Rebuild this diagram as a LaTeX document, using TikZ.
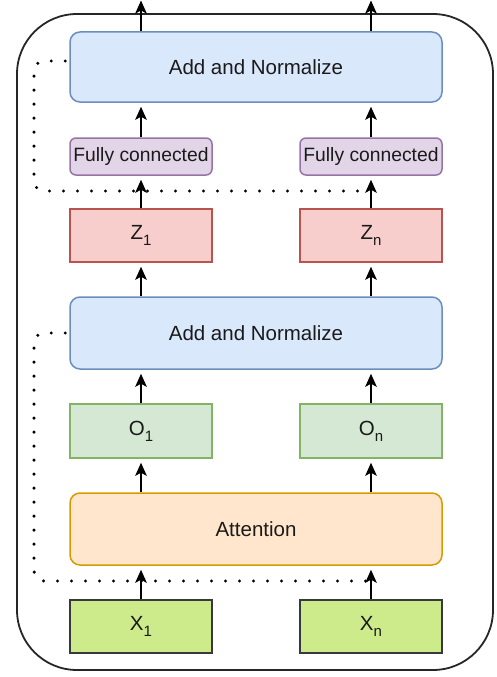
\documentclass[tikz,border=0pt]{standalone}
\usepackage{fontspec}
\setmainfont{Liberation Sans}
\usetikzlibrary{arrows.meta}
\definecolor{bluef}{HTML}{DAE8FC}\definecolor{blues}{HTML}{6C8EBF}
\definecolor{purpf}{HTML}{E1D5E7}\definecolor{purps}{HTML}{9673A6}
\definecolor{redf}{HTML}{F8CECC}\definecolor{reds}{HTML}{B85450}
\definecolor{greenf}{HTML}{D5E8D4}\definecolor{greens}{HTML}{82B366}
\definecolor{orangef}{HTML}{FFE6CC}\definecolor{oranges}{HTML}{D79B00}
\definecolor{limef}{HTML}{CDEB8B}\definecolor{limes}{HTML}{36393D}
\definecolor{txt}{HTML}{1A1A1A}
\newcommand{\sbs}[1]{\raisebox{-0.3em}{\fontsize{15}{15}\selectfont #1}}
\tikzset{
  box/.style={draw, line width=1.5pt, inner sep=0pt, text=txt,
    font=\fontsize{20.5}{24}\selectfont},
  bluebox/.style={box, fill=bluef, draw=blues, rounded corners=10pt,
    minimum width=372pt, minimum height=70pt},
  fcbox/.style={box, fill=purpf, draw=purps, rounded corners=6pt,
    minimum width=142pt, minimum height=37pt, font=\fontsize{19.3}{22}\selectfont},
  zbox/.style={box, fill=redf, draw=reds, minimum width=142pt, minimum height=53pt},
  obox/.style={box, fill=greenf, draw=greens, minimum width=142pt, minimum height=54pt},
  attbox/.style={box, fill=orangef, draw=oranges, rounded corners=10pt,
    minimum width=372pt, minimum height=72pt},
  xbox/.style={box, fill=limef, draw=limes, minimum width=142pt, minimum height=53pt},
  arr/.style={draw=black, line width=2pt, shorten >=4pt,
    -{Stealth[length=13pt,width=11.5pt,inset=3pt]}},
  toparr/.style={arr, shorten >=0pt},
  dotline/.style={draw=black, line width=3.4pt, line cap=round,
    dash pattern=on 0pt off 14pt, rounded corners=10pt},
  outer/.style={draw=black!85, line width=1.8pt, rounded corners=60pt}
}
\begin{document}
\begin{tikzpicture}[x=1pt,y=-1pt]
\useasboundingbox (0,0) rectangle (496,677);
\draw[outer] (17,14) rectangle (493,670);

\node[bluebox] (an2) at (256,67) {Add and Normalize};
\node[fcbox] (fc1) at (141,156.5) {Fully connected};
\node[fcbox] (fcn) at (371,156.5) {Fully connected};
\node[zbox] (z1) at (141,235.5) {Z\sbs{1}};
\node[zbox] (zn) at (371,235.5) {Z\sbs{n}};
\node[bluebox, minimum height=72pt] (an1) at (256,333) {Add and Normalize};
\node[obox] (o1) at (141,431) {O\sbs{1}};
\node[obox] (on) at (371,431) {O\sbs{n}};
\node[attbox] (att) at (256,529) {Attention};
\node[xbox] (x1) at (141,626.5) {X\sbs{1}};
\node[xbox] (xn) at (371,626.5) {X\sbs{n}};

\coordinate (out1) at (141,0.5);
\coordinate (outn) at (371,0.5);

% dotted residual paths
\draw[dotline] ([xshift=-4pt,yshift=6pt]an2.west) -- (34,61) -- (34,191) -- (371,191);
\draw[dotline] ([xshift=-4pt]an1.west) -- (34,333) -- (34,581) -- (371,581);

% arrows
\draw[toparr] (an2.north -| fc1.north) -- (out1);
\draw[toparr] (an2.north -| fcn.north) -- (outn);
\draw[arr] (fc1.north) -- (fc1.north |- an2.south);
\draw[arr] (fcn.north) -- (fcn.north |- an2.south);
\draw[arr] (z1.north) -- (fc1.south);
\draw[arr] (zn.north) -- (fcn.south);
\draw[arr] (z1.south |- an1.north) -- (z1.south);
\draw[arr] (zn.south |- an1.north) -- (zn.south);
\draw[arr] (o1.north) -- (o1.north |- an1.south);
\draw[arr] (on.north) -- (on.north |- an1.south);
\draw[arr] (o1.south |- att.north) -- (o1.south);
\draw[arr] (on.south |- att.north) -- (on.south);
\draw[arr] (x1.north) -- (x1.north |- att.south);
\draw[arr] (xn.north) -- (xn.north |- att.south);
\end{tikzpicture}
\end{document}
